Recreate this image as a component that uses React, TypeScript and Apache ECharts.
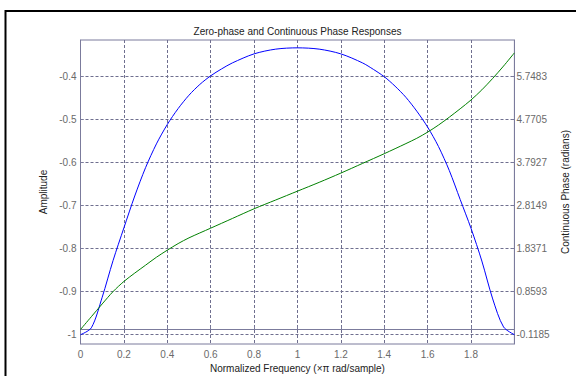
import React, { useEffect, useRef } from 'react';
import * as echarts from 'echarts';

// Zero-phase amplitude response (blue)
const freqAmp = [0, 0.05, 0.1, 0.15, 0.2, 0.25, 0.3, 0.35, 0.4, 0.45, 0.5, 0.55, 0.6, 0.65, 0.7, 0.8, 0.9, 1.0, 1.1, 1.2, 1.3, 1.35, 1.4, 1.45, 1.5, 1.55, 1.6, 1.65, 1.7, 1.75, 1.8, 1.85, 1.9, 1.95, 2.0];
const amplitude = [-1.0, -0.984, -0.913, -0.828, -0.752, -0.678, -0.612, -0.557, -0.512, -0.475, -0.444, -0.419, -0.399, -0.383, -0.369, -0.348, -0.337, -0.334, -0.337, -0.348, -0.369, -0.384, -0.401, -0.423, -0.449, -0.481, -0.518, -0.563, -0.619, -0.686, -0.753, -0.829, -0.917, -0.982, -1.0];

// Continuous phase in radians (green)
const freqPhase = [0, 0.05, 0.1, 0.15, 0.2, 0.25, 0.3, 0.35, 0.4, 0.45, 0.5, 0.6, 0.7, 0.8, 0.9, 1.0, 1.1, 1.2, 1.3, 1.4, 1.5, 1.55, 1.6, 1.65, 1.7, 1.75, 1.8, 1.85, 1.9, 1.95, 2.0];
const phase = [0, 0.29, 0.58, 0.86, 1.09, 1.28, 1.46, 1.64, 1.8, 1.95, 2.08, 2.3, 2.52, 2.74, 2.94, 3.14, 3.34, 3.55, 3.77, 3.99, 4.22, 4.34, 4.48, 4.64, 4.82, 5.01, 5.21, 5.44, 5.7, 5.98, 6.28];

// Tick labels
const xTicks = [0, 0.2, 0.4, 0.6, 0.8, 1, 1.2, 1.4, 1.6, 1.8];
const ampTicks = [-1, -0.9, -0.8, -0.7, -0.6, -0.5, -0.4];
const phaseTicks = [-0.1185, 0.8593, 1.8371, 2.8149, 3.7927, 4.7705, 5.7483];

const ampMin = -1.0216;
const ampMax = -0.3158;
const phaseMin = -0.3297;
const phaseMax = 6.5716;

export default function App() {
  const ref = useRef<HTMLDivElement>(null);
  useEffect(() => {
    const chart = echarts.init(ref.current!, null, { renderer: 'svg' });
    const font = 'Liberation Sans, Arial, Helvetica, sans-serif';
    const axisColor = '#7b7b9c';
    const gridColor = '#6f6f8f';
    const labelColor = '#6a6a6a';
    const nameStyle = { color: '#222', fontSize: 10, fontFamily: font };
    const dashed = { show: true, lineStyle: { color: gridColor, type: [3, 2] as any, width: 1 } };
    chart.setOption({
      animation: false,
      backgroundColor: '#ffffff',
      grid: {
        left: 80.5, right: 61.6, top: 40, bottom: 32,
        containLabel: false, outerBoundsMode: 'none',
        show: true, borderColor: axisColor, borderWidth: 1, backgroundColor: 'transparent',
      },
      graphic: [
        {
          type: 'rect', silent: true, z: 100,
          shape: { x: 5.5, y: 11, width: 700, height: 500 },
          style: { fill: 'none', stroke: '#000', lineWidth: 2 },
        },
        {
          type: 'text', silent: true, x: 297.5, y: 31,
          style: {
            text: 'Zero-phase and Continuous Phase Responses',
            fill: '#222', fontSize: 10, fontFamily: font,
            textAlign: 'center', textVerticalAlign: 'middle',
          },
        },
      ],
      xAxis: {
        type: 'value', min: 0, max: 2,
        name: 'Normalized Frequency (\u00d7\u03c0 rad/sample)',
        nameLocation: 'middle', nameGap: 19, nameTextStyle: nameStyle,
        axisLine: { show: true, lineStyle: { color: axisColor } },
        axisTick: { show: true, inside: true, length: 3, customValues: xTicks, lineStyle: { color: axisColor } },
        axisLabel: {
          customValues: xTicks, margin: 5, color: labelColor, fontSize: 10, fontFamily: font,
          formatter: (v: number) => String(+v.toFixed(1)),
        },
        splitLine: dashed,
      },
      yAxis: [
        {
          type: 'value', min: ampMin, max: ampMax, position: 'left',
          name: 'Amplitude', nameLocation: 'middle', nameGap: 22, nameRotate: 90, nameTextStyle: nameStyle,
          axisLine: { show: true, lineStyle: { color: axisColor } },
          axisTick: { show: true, inside: true, length: 3, customValues: ampTicks, lineStyle: { color: axisColor } },
          axisLabel: {
            customValues: ampTicks, margin: 4, color: labelColor, fontSize: 10, fontFamily: font,
            formatter: (v: number) => String(+v.toFixed(1)),
          },
          splitLine: dashed,
        },
        {
          type: 'value', min: phaseMin, max: phaseMax, position: 'right',
          name: 'Continuous Phase (radians)', nameLocation: 'middle', nameGap: 35, nameRotate: 90, nameTextStyle: nameStyle,
          axisLine: { show: true, lineStyle: { color: axisColor } },
          axisTick: { show: true, inside: true, length: 3, customValues: phaseTicks, lineStyle: { color: axisColor } },
          axisLabel: {
            customValues: phaseTicks, margin: 2, color: labelColor, fontSize: 10, fontFamily: font,
            formatter: (v: number) => v.toFixed(4),
          },
          splitLine: { show: false },
        },
      ],
      series: [
        {
          type: 'line', name: 'Amplitude', yAxisIndex: 0, showSymbol: false, smooth: 0.3,
          data: freqAmp.map((f, i) => [f, amplitude[i]]),
          lineStyle: { color: '#0000ff', width: 1 }, itemStyle: { color: '#0000ff' },
        },
        {
          type: 'line', name: 'Phase', yAxisIndex: 1, showSymbol: false, smooth: 0.3,
          data: freqPhase.map((f, i) => [f, phase[i]]),
          lineStyle: { color: '#008000', width: 1 }, itemStyle: { color: '#008000' },
        },
      ],
    });
    return () => chart.dispose();
  }, []);
  return <div ref={ref} style={{ position: 'absolute', left: 0, top: 0, width: 576, height: 376 }} />;
}
